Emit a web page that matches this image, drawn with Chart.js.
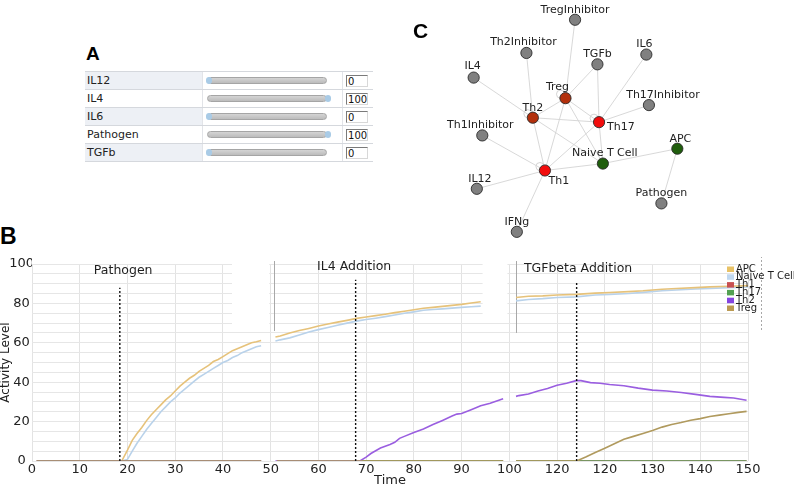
<!DOCTYPE html>
<html>
<head>
<meta charset="utf-8">
<script src="https://cdn.jsdelivr.net/npm/chart.js@4.4.1/dist/chart.umd.min.js"></script>
<style>
  html, body { margin: 0; padding: 0; background: #fff; }
  body { width: 794px; height: 486px; position: relative; overflow: hidden; font-family: 'DejaVu Sans', sans-serif; }
  .letter { position: absolute; font-family: 'Liberation Sans', Arial, sans-serif; font-weight: bold; line-height: 1; color: #000; }
  #sliders { position: absolute; left: 85px; top: 71px; width: 288px; border-bottom: 1px solid #d5d8dd; }
  .row { display: flex; height: 18px; border-top: 1px solid #d5d8dd; box-sizing: border-box; }
  .lab { width: 118px; font-size: 11px; line-height: 17px; padding-left: 2px; box-sizing: border-box; border-right: 1px solid #e2e4e8; color: #222; }
  .tint .lab { background: #edf0f5; }
  .sl { width: 140px; position: relative; border-right: 1px solid #e2e4e8; }
  .track { position: absolute; left: 4px; top: 5px; width: 120px; height: 7px; border: 1px solid #a5a5a5; border-radius: 4px; background: linear-gradient(#d4d4d4, #bcbcbc); box-sizing: border-box; }
  .knob { position: absolute; top: 5px; width: 6px; height: 7px; border-radius: 3px; background: #a9cbe6; }
  .val { width: 30px; position: relative; }
  .inp { position: absolute; left: 3px; top: 3px; width: 22px; height: 12px; border: 1px solid; border-color: #7a7a7a #d8d8d8 #d8d8d8 #7a7a7a; background: #fff; font-size: 10px; line-height: 11px; padding-left: 1px; box-sizing: border-box; color: #111; }
  canvas { position: absolute; }
</style>
</head>
<body>
<div id="sliders"></div>
<canvas id="network" width="320" height="250" style="left:400px;top:0"></canvas>
<canvas id="timecourse" width="794" height="236" style="left:0;top:250px"></canvas>
<div class="letter" style="left:86px;top:44px;font-size:19px">A</div>
<div class="letter" style="left:0;top:225px;font-size:23px">B</div>
<div class="letter" style="left:413px;top:20px;font-size:21px">C</div>
<script>
// ---------- Panel A: input sliders ----------
const sliderLabels = ['IL12', 'IL4', 'IL6', 'Pathogen', 'TGFb'];
const sliderValues = [0, 100, 0, 100, 0];

// ---------- Panel C: network ----------
const nodeNames = ['TregInhibitor', 'Th2Inhibitor', 'TGFb', 'IL6', 'IL4', 'Treg', 'Th17Inhibitor', 'Th2',
                   'Th17', 'Th1Inhibitor', 'APC', 'Naive T Cell', 'Th1', 'IL12', 'Pathogen', 'IFNg'];
const nodeX = [175.7, 125, 199, 250, 70, 165.7, 252.7, 131.7, 200.7, 79, 282.3, 204.7, 144.3, 73.3, 265.7, 115];
const nodeY = [14, 49, 61, 50.7, 75, 96.7, 104, 117.3, 122, 136, 150, 165.7, 173, 192.3, 207.7, 237.7];
const nodeKind = ['input', 'input', 'input', 'input', 'input', 'regulated', 'input', 'regulated',
                  'effector', 'input', 'cell', 'cell', 'effector', 'input', 'input', 'input'];
const edgePairs = [
    ['TregInhibitor', 'Treg'], ['Th2Inhibitor', 'Th2'], ['TGFb', 'Treg'], ['TGFb', 'Th17'],
    ['IL6', 'Th17'], ['IL4', 'Th2'], ['Th17Inhibitor', 'Th17'], ['Th1Inhibitor', 'Th1'],
    ['IL12', 'Th1'], ['IFNg', 'Th1'], ['Pathogen', 'APC'], ['APC', 'Naive T Cell'],
    ['Naive T Cell', 'Th1'], ['Naive T Cell', 'Th17'], ['Naive T Cell', 'Th2'], ['Naive T Cell', 'Treg'],
    ['Th1', 'Th2'], ['Th1', 'Th17'], ['Th1', 'Treg'], ['Th2', 'Th17'], ['Treg', 'Th17'], ['Treg', 'Th2']
];
const selfLoops = ['Th1', 'Th2', 'Treg', 'Th17'];

// ---------- Panel B: time courses ----------
const xTickLabels = ['0', '10', '20', '30', '40', '50', '60', '70', '80', '90', '100', '120', '120', '130', '140', '150'];
const seriesNames = ['APC', 'Naive T Cell', 'Th1', 'Th17', 'Th2', 'Treg'];

const panel1Time = [1, 18.8, 20, 21, 22, 23, 24, 25, 26, 27, 28, 29, 30, 31, 32, 33, 34, 35, 36, 37, 38, 39, 40, 41, 42, 43, 44, 45, 46, 47, 48];
const apcPanel1 = [0, 0, 5.5, 10.5, 14, 17, 20.5, 23.5, 26, 28.5, 31, 33, 35.5, 38, 40, 42, 43.5, 45.5, 47, 48.5, 50.5, 51.5, 53, 54.5, 56, 57, 58, 59, 60, 60.5, 61.2];
const naivePanel1 = [0, 0, 0.8, 5, 9, 12.5, 16, 19, 22, 25, 27.5, 30, 32, 34.5, 36.5, 38.5, 40.5, 42.5, 44, 45.5, 47, 48.5, 50, 51, 52.5, 53.5, 55, 56, 57, 58, 58.5];

const panel2Time = [51, 52, 54, 56, 58, 60, 62, 64, 66, 68, 70, 72, 74, 76, 78, 80, 82, 84, 86, 88, 90, 92, 94];
const apcPanel2 = [62.9, 63.5, 65, 66.2, 67.3, 68.5, 69.5, 70.5, 71.4, 72.4, 73.1, 73.8, 74.5, 75.3, 76, 76.8, 77.5, 78, 78.5, 79, 79.5, 80.2, 80.8];
const naivePanel2 = [60.9, 61.5, 62.5, 64, 65.5, 66.7, 67.8, 68.9, 70, 71, 71.8, 72.5, 73.3, 74.1, 75, 75.7, 76.5, 76.9, 77.2, 77.6, 78, 78.3, 78.6];
const th2Panel2Time = [51, 68.7, 70, 71, 72, 73, 74, 75, 76, 77, 78, 80, 82, 84, 86, 88, 89, 90, 92, 94, 96, 98.7];
const th2Panel2 = [0, 0, 2, 3.8, 5.2, 6.6, 7.5, 8.4, 9.5, 11.5, 12.5, 14.5, 16.3, 18.5, 20.6, 22.8, 23.8, 24.1, 26, 28, 29.3, 31.6];

const panel3Time = [101.4, 104, 107, 110, 114, 118, 121, 125, 128, 132, 135, 139, 142, 146, 150];
const apcPanel3 = [83, 83.6, 83.8, 84.3, 84.6, 85.2, 85.5, 86, 86.4, 87.2, 87.6, 88, 88.4, 88.7, 89];
const naivePanel3 = [81.3, 82, 82.4, 83, 83.3, 84.3, 84.5, 85, 85.6, 86.4, 86.8, 87.3, 87.6, 88, 88.3];
const th2Panel3Time = [101.4, 102, 104, 106, 108, 110, 112, 114, 115, 117, 119, 121, 124, 127, 130, 133, 136, 139, 142, 145, 147, 149.7];
const th2Panel3 = [32.8, 33.2, 34, 35.5, 36.8, 38.5, 39.5, 40.8, 40.8, 39.8, 39.5, 38.8, 38.2, 37, 36, 35.5, 34.8, 33.8, 32.8, 32.3, 32, 30.8];
const tregPanel3Time = [101.4, 114.1, 116, 118, 120, 122, 124, 126, 128, 130, 132, 134, 136, 138, 140, 142, 144, 146, 148, 149.7];
const tregPanel3 = [0, 0, 2, 4.3, 6.5, 8.8, 11, 12.5, 14, 15.5, 17.2, 18.5, 19.5, 20.7, 21.5, 22.6, 23.3, 24, 24.7, 25.2];

// flat spans where a species sits at zero
const span1 = [1, 48];
const span2 = [51.3, 98.7];
const span3 = [101.4, 149.7];
const zeroPair = [0, 0];

// perturbation markers and panel titles
const panelTitles = ['Pathogen', 'IL4 Addition', 'TGFbeta Addition'];
const titleTime = [19.1, 67.5, 114.4];
const titleLevel = [96.5, 98.5, 97.5];
const eventTime = [18.4, 67.8, 114.1];
const eventTop = [88, 92, 91];

// ---------- build panel A ----------
const sliderBox = document.getElementById('sliders');
sliderLabels.forEach((name, i) => {
    const row = document.createElement('div');
    row.className = 'row' + (i % 2 === 0 ? ' tint' : '');
    row.innerHTML =
        `<div class="lab">${name}</div>` +
        `<div class="sl"><div class="track"></div><div class="knob" style="left:${3 + sliderValues[i] * 1.19}px"></div></div>` +
        `<div class="val"><div class="inp">${sliderValues[i]}</div></div>`;
    sliderBox.appendChild(row);
});

// ---------- build panel C ----------
const kindColor = { input: '#808080', regulated: '#b3300c', effector: '#f20c0c', cell: '#1f5d0c' };
const nodePos = name => {
    const i = nodeNames.indexOf(name);
    return { x: nodeX[i], y: nodeY[i] };
};

// label offsets in px from the node centre (default: centred above)
const labelOffsets = {
    'Th17': [8, 5, 'left'], 'Th1': [14, 11], 'Th17Inhibitor': [14, -10], 'Treg': [-8, -11.5],
    'Th2Inhibitor': [-3, -11], 'Th1Inhibitor': [-2, -10], 'IL12': [3, -10], 'APC': [3, -10],
    'Naive T Cell': [2, -10], 'IL6': [-2, -10], 'IL4': [-1, -11]
};

const networkDecor = {
    id: 'networkDecor',
    beforeDatasetsDraw(chart) {
        const { ctx, scales: { x, y } } = chart;
        ctx.save();
        ctx.strokeStyle = '#cfcfcf';
        ctx.lineWidth = 0.9;
        selfLoops.forEach(n => {
            const p = nodePos(n);
            ctx.beginPath();
            ctx.arc(x.getPixelForValue(p.x) - 5, y.getPixelForValue(p.y) - 4, 4, 0, Math.PI * 2);
            ctx.stroke();
        });
        ctx.restore();
    },
    afterDatasetsDraw(chart) {
        const { ctx, scales: { x, y } } = chart;
        ctx.save();
        ctx.font = '11px "DejaVu Sans"';
        ctx.fillStyle = '#222';
        ctx.textBaseline = 'middle';
        nodeNames.forEach((n, i) => {
            const off = labelOffsets[n] || [0, -10];
            ctx.textAlign = off[2] || 'center';
            ctx.fillText(n, x.getPixelForValue(nodeX[i]) + off[0], y.getPixelForValue(nodeY[i]) + off[1]);
        });
        ctx.restore();
    }
};

new Chart(document.getElementById('network'), {
    type: 'scatter',
    data: {
        datasets: [
            {
                label: 'nodes',
                data: nodeNames.map(nodePos),
                pointRadius: 5.6,
                pointBackgroundColor: nodeKind.map(k => kindColor[k]),
                pointBorderColor: '#2a2a2a',
                pointBorderWidth: 0.9,
                order: 0
            },
            ...edgePairs.map(([a, b]) => ({
                label: a + '-' + b,
                data: [nodePos(a), nodePos(b)],
                showLine: true,
                borderColor: '#d4d4d4',
                borderWidth: 0.9,
                pointRadius: 0,
                order: 1
            }))
        ]
    },
    options: {
        responsive: false,
        animation: false,
        events: [],
        layout: { padding: 0 },
        plugins: { legend: { display: false }, tooltip: { enabled: false } },
        scales: {
            x: { type: 'linear', display: false, min: 0, max: 320 },
            y: { type: 'linear', display: false, min: 0, max: 250, reverse: true }
        }
    },
    plugins: [networkDecor]
});

// ---------- build panel B ----------
const seg = (times, values) => times.map((t, i) => ({ x: t, y: values[i] }));
const joinPanels = (...parts) => {
    const out = [];
    parts.forEach((p, i) => {
        if (i) out.push({ x: p[0].x - 0.5, y: null });
        out.push(...p);
    });
    return out;
};

const seriesColors = {
    'APC': '#e6c27a', 'Naive T Cell': '#b9d2ea', 'Th1': '#c9504a',
    'Th17': '#5c9e5c', 'Th2': '#9a5ee0', 'Treg': '#b09a5e'
};
const legendColors = {
    'APC': '#e8c266', 'Naive T Cell': '#c0d8f0', 'Th1': '#c85050',
    'Th17': '#52a052', 'Th2': '#8444e0', 'Treg': '#bb9a52'
};
// drawing order: lower order is on top
const seriesOrder = { 'APC': 4, 'Naive T Cell': 5, 'Th1': 3, 'Th17': 2, 'Th2': 1, 'Treg': 0 };

const seriesData = {
    'APC': joinPanels(seg(panel1Time, apcPanel1), seg(panel2Time, apcPanel2), seg(panel3Time, apcPanel3)),
    'Naive T Cell': joinPanels(seg(panel1Time, naivePanel1), seg(panel2Time, naivePanel2), seg(panel3Time, naivePanel3)),
    'Th1': joinPanels(seg(span1, zeroPair), seg(span2, zeroPair), seg(span3, zeroPair)),
    'Th17': joinPanels(seg(span1, zeroPair), seg(span2, zeroPair), seg(span3, zeroPair)),
    'Th2': joinPanels(seg(span1, zeroPair), seg(th2Panel2Time, th2Panel2), seg(th2Panel3Time, th2Panel3)),
    'Treg': joinPanels(seg(span1, zeroPair), seg(span2, zeroPair), seg(tregPanel3Time, tregPanel3))
};

const eventData = joinPanels(...eventTime.map((t, i) => seg([t, t], [0, eventTop[i]])));

const panelDecor = {
    id: 'panelDecor',
    beforeDatasetsDraw(chart) {
        // blank corners left by the pasted sub-plots
        const { ctx, scales: { x, y } } = chart;
        ctx.save();
        ctx.fillStyle = '#fff';
        [[41.9, 49.7, 68, 100.6], [94.4, 99.6, 71, 100.6]].forEach(([x0, x1, y0, y1]) => {
            const px0 = x.getPixelForValue(x0), px1 = x.getPixelForValue(x1);
            const py0 = y.getPixelForValue(y1), py1 = y.getPixelForValue(y0);
            ctx.fillRect(px0, py0 - 2, px1 - px0, py1 - py0 + 2);
        });
        ctx.strokeStyle = '#a8a8a8';
        ctx.lineWidth = 1;
        [[50.7, 66, 101.5], [101.5, 65, 101.5]].forEach(([t, lo, hi]) => {
            const px = Math.round(x.getPixelForValue(t)) + 0.5;
            ctx.beginPath();
            ctx.moveTo(px, y.getPixelForValue(lo));
            ctx.lineTo(px, y.getPixelForValue(hi));
            ctx.stroke();
        });
        ctx.setLineDash([2, 2]);
        const pr = Math.round(x.getPixelForValue(152.7)) + 0.5;
        ctx.beginPath();
        ctx.moveTo(pr, y.getPixelForValue(66.5));
        ctx.lineTo(pr, y.getPixelForValue(103.5));
        ctx.stroke();
        ctx.restore();
    },
    afterDatasetsDraw(chart) {
        const { ctx, chartArea, scales: { x, y } } = chart;
        ctx.save();
        ctx.fillStyle = '#1e1e1e';
        ctx.font = '12.5px "DejaVu Sans"';
        ctx.textAlign = 'center';
        ctx.textBaseline = 'middle';
        panelTitles.forEach((t, i) => ctx.fillText(t, x.getPixelForValue(titleTime[i]), y.getPixelForValue(titleLevel[i])));

        // legend in the top-right corner of the last panel
        ctx.font = '10px "DejaVu Sans"';
        ctx.textAlign = 'left';
        const lx = chartArea.right - 21;
        seriesNames.forEach((n, i) => {
            const ly = chartArea.top + 5 + i * 7.8;
            ctx.fillStyle = legendColors[n];
            ctx.fillRect(lx, ly - 2.5, 7, 5.5);
            ctx.fillStyle = '#1e1e1e';
            ctx.fillText(n, lx + 9, ly);
        });
        ctx.restore();
    }
};

const tickFont = { family: 'DejaVu Sans', size: 13 };

new Chart(document.getElementById('timecourse'), {
    type: 'line',
    data: {
        datasets: [
            ...seriesNames.map(n => ({
                label: n,
                data: seriesData[n],
                borderColor: seriesColors[n],
                borderWidth: 1.6,
                pointRadius: 0,
                tension: 0,
                fill: false,
                spanGaps: false,
                order: seriesOrder[n]
            })),
            {
                label: 'perturbation',
                data: eventData,
                borderColor: '#111',
                borderWidth: 1.4,
                borderDash: [2, 2],
                pointRadius: 0,
                spanGaps: false,
                order: -1
            }
        ]
    },
    options: {
        responsive: false,
        animation: false,
        events: [],
        layout: { padding: { left: 0, right: 46, top: 14, bottom: 0 } },
        plugins: { legend: { display: false }, tooltip: { enabled: false } },
        scales: {
            x: {
                type: 'linear',
                min: 0,
                max: 150,
                afterFit: s => { s.height = 25; },
                grid: { color: '#e3e3e3', drawTicks: false },
                border: { display: false },
                ticks: {
                    stepSize: 10,
                    autoSkip: false,
                    maxRotation: 0,
                    padding: 1,
                    color: '#222',
                    font: tickFont,
                    callback: v => xTickLabels[Math.round(v / 10)]
                },
                title: {
                    display: true,
                    text: 'Time',
                    color: '#222',
                    font: { family: 'DejaVu Sans', size: 13, lineHeight: 1 },
                    padding: { top: 0, bottom: -1 }
                }
            },
            y: {
                min: 0,
                max: 100,
                afterFit: s => { s.width = 32; },
                grid: { color: '#e6e6e6', drawTicks: false },
                border: { display: false },
                ticks: {
                    stepSize: 5,
                    autoSkip: false,
                    padding: -2,
                    crossAlign: 'center',
                    color: '#222',
                    font: tickFont,
                    callback: v => (v % 20 === 0 ? String(v) : '')
                },
                title: {
                    display: true,
                    text: 'Activity Level',
                    color: '#222',
                    font: { family: 'DejaVu Sans', size: 12, lineHeight: 1 },
                    padding: 0
                }
            }
        }
    },
    plugins: [panelDecor]
});
</script>
</body>
</html>
